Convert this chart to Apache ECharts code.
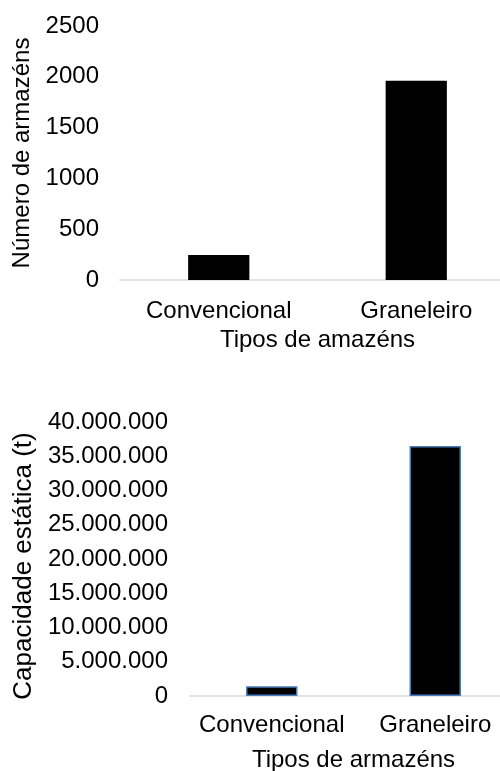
<!DOCTYPE html>
<html>
<head>
<meta charset="utf-8">
<script src="https://cdn.jsdelivr.net/npm/echarts@6/dist/echarts.min.js"></script>
<style>
html,body{margin:0;padding:0;background:#fff;}
#c{width:500px;height:771px;}
</style>
</head>
<body>
<div id="c"></div>
<script>
const categories = ['Convencional', 'Graneleiro'];
const numArmazens = [245, 1960];
const capacidade = [1420000, 36500000];
const ticksTop = [0, 500, 1000, 1500, 2000, 2500];
const ticksBottom = [0, 5000000, 10000000, 15000000, 20000000, 25000000, 30000000, 35000000, 40000000];

const FONT = '"Liberation Sans", Arial, sans-serif';
const FS = 24;
function fmtDots(v) {
  return String(v).replace(/\B(?=(\d{3})+(?!\d))/g, '.');
}
const chart = echarts.init(document.getElementById('c'), null, {renderer: 'canvas'});
const baseText = {color: '#000', fontFamily: FONT, fontSize: FS};
chart.setOption({
  animation: false,
  backgroundColor: '#fff',
  grid: [
    {left: 120, width: 395, top: 26, height: 254, outerBoundsMode: 'none', containLabel: false},
    {left: 190, width: 327, top: 422, height: 274, outerBoundsMode: 'none', containLabel: false}
  ],
  xAxis: [
    {
      gridIndex: 0, type: 'category', data: categories,
      axisLine: {lineStyle: {color: '#d9d9d9', width: 1.5}},
      axisTick: {show: false},
      axisLabel: Object.assign({margin: 19, interval: 0}, baseText),
      name: 'Tipos de amazéns', nameLocation: 'middle', nameGap: 48,
      nameTextStyle: baseText
    },
    {
      gridIndex: 1, type: 'category', data: categories,
      axisLine: {lineStyle: {color: '#d9d9d9', width: 1.5}},
      axisTick: {show: false},
      axisLabel: Object.assign({margin: 17, interval: 0}, baseText),
      name: 'Tipos de armazéns', nameLocation: 'middle', nameGap: 52,
      nameTextStyle: baseText
    }
  ],
  yAxis: [
    {
      gridIndex: 0, type: 'value',
      min: ticksTop[0], max: ticksTop[ticksTop.length - 1], interval: ticksTop[1] - ticksTop[0],
      axisLine: {show: false}, axisTick: {show: false}, splitLine: {show: false},
      axisLabel: Object.assign({margin: 21, formatter: function (v) { return String(v); }}, baseText),
      name: 'Número de armazéns', nameLocation: 'middle', nameGap: 78,
      nameTextStyle: baseText
    },
    {
      gridIndex: 1, type: 'value',
      min: ticksBottom[0], max: ticksBottom[ticksBottom.length - 1], interval: ticksBottom[1] - ticksBottom[0],
      axisLine: {show: false}, axisTick: {show: false}, splitLine: {show: false},
      axisLabel: Object.assign({margin: 22, formatter: fmtDots}, baseText),
      name: 'Capacidade estática (t)', nameLocation: 'middle', nameGap: 146,
      nameTextStyle: Object.assign({}, baseText, {fontSize: 26, padding: [0, 14, 0, 0]})
    }
  ],
  series: [
    {
      type: 'bar', xAxisIndex: 0, yAxisIndex: 0, data: numArmazens,
      barWidth: '31%',
      itemStyle: {color: '#000'}
    },
    {
      type: 'bar', xAxisIndex: 1, yAxisIndex: 1, data: capacidade,
      barWidth: '31.5%',
      itemStyle: {color: '#000', borderColor: '#4a7ebb', borderWidth: 1.5}
    }
  ]
});
</script>
</body>
</html>
